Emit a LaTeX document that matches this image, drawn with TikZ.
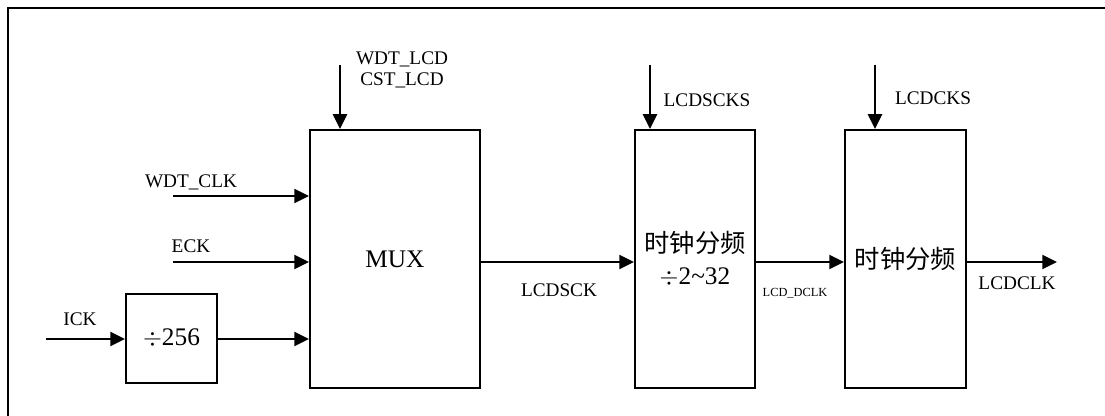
\documentclass[tikz,border=0pt]{standalone}
\usepackage{fontspec}
\setmainfont{Liberation Serif}
\newfontfamily\cjk{Noto Sans CJK SC}
\usepackage{tikz}
\usetikzlibrary{arrows.meta, positioning, calc}
\tikzset{
  blk/.style={draw=black, line width=1.4pt, fill=white, align=center, inner sep=0pt},
  sig/.style={-{Triangle[length=10.5pt, width=10pt]}, draw=black, line width=1.5pt},
  lbl/.style={font=\fontsize{13.7}{16}\selectfont, inner sep=0pt, align=center},
  big/.style={font=\fontsize{18}{25}\selectfont},
}
\begin{document}
\begin{tikzpicture}[x=1cm, y=1cm]
  \useasboundingbox (0,0) rectangle (27.625,10.4);
  % ---- open frame: top and left edge only
  \draw[line width=1.8pt] (0.2,0) -- (0.2,10.2) -- (27.625,10.2);
  % ---- blocks
  \node[blk, big, minimum width=2.275cm, minimum height=2.225cm] (d256) at (4.2875,1.9375) {$\div$256};
  \node[blk, big, minimum width=4.25cm, minimum height=6.45cm] (mux) at (9.875,3.925) {MUX};
  \node[blk, big, minimum width=3.0cm, minimum height=6.45cm] (div2) at (17.375,3.925)
    {{\cjk 时钟分频}\\[-2pt]$\div$2\textasciitilde 32};
  \node[blk, big, minimum width=3.025cm, minimum height=6.45cm] (div3) at (22.6375,3.925) {\cjk 时钟分频};
  % ---- free ends of the signals
  \coordinate (wdtIn) at (4.325,5.5);
  \coordinate (eckIn) at (4.325,3.85);
  \coordinate (ickIn) at (1.15,1.925);
  \coordinate (selIn) at (8.5,8.775);
  \coordinate (scksIn) at (16.25,8.775);
  \coordinate (cksIn) at (21.875,8.775);
  \coordinate (clkOut) at (26.425,3.85);
  % ---- inputs to the mux
  \draw[sig] (wdtIn) -- (mux.west |- wdtIn);
  \draw[sig] (eckIn) -- (mux.west |- eckIn);
  \draw[sig] (ickIn) -- (d256.west |- ickIn);
  \draw[sig] (d256.east |- ickIn) -- (mux.west |- ickIn);
  % ---- select lines from above
  \draw[sig] (selIn) -- (mux.north -| selIn);
  \draw[sig] (scksIn) -- (div2.north -| scksIn);
  \draw[sig] (cksIn) -- (div3.north -| cksIn);
  % ---- clock chain
  \draw[sig] (mux.east |- eckIn) -- (div2.west |- eckIn);
  \draw[sig] (div2.east |- eckIn) -- (div3.west |- eckIn);
  \draw[sig] (div3.east |- eckIn) -- (clkOut);
  % ---- labels
  \node[lbl] (tWdtClk) at (4.775,5.83) {WDT\_CLK};
  \node[lbl] (tEck) at (4.775,4.25) {ECK};
  \node[lbl] (tIck) at (2.0,2.43) {ICK};
  \node[lbl] (tSel) at (10.05,8.66) {WDT\_LCD\\[-1pt]CST\_LCD};
  \node[lbl] (tScks) at (17.675,7.9) {LCDSCKS};
  \node[lbl] (tCks) at (23.325,7.95) {LCDCKS};
  \node[lbl] (tSck) at (13.975,3.15) {LCDSCK};
  \node[lbl, font=\fontsize{8.8}{10}\selectfont] (tDclk) at (19.875,3.07) {LCD\_DCLK};
  \node[lbl] (tClk) at (25.425,3.33) {LCDCLK};
\end{tikzpicture}
\end{document}
